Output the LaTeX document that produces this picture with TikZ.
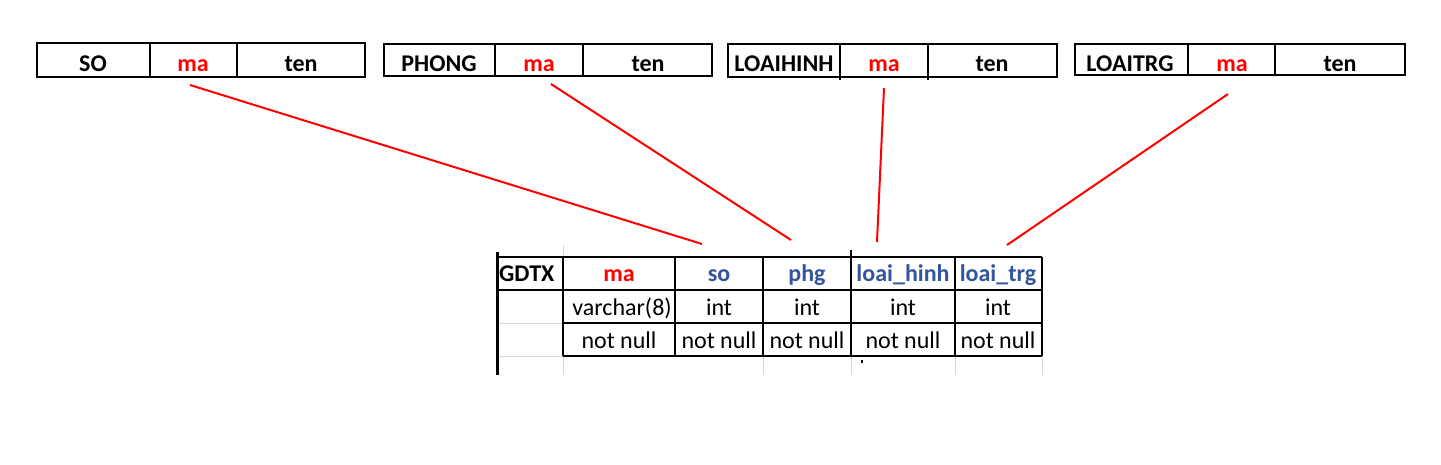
\documentclass[tikz,border=0pt]{standalone}
\usepackage{fontspec}
\setmainfont{Carlito}
\definecolor{keyred}{RGB}{255,0,0}
\definecolor{fkblue}{RGB}{52,84,156}
\definecolor{gridgray}{RGB}{215,215,215}

\begin{document}
\begin{tikzpicture}[x=1pt,y=-1pt]
\tikzset{cell/.style = {anchor=base, inner sep=0pt, font=\fontsize{24}{28}\selectfont}}
\tikzset{head/.style = {cell, font=\fontsize{24}{28}\selectfont\bfseries}}
\tikzset{grid/.style = {draw=black, line width=1.2pt}}
\tikzset{faint/.style = {draw=gridgray, line width=1pt}}
\tikzset{link/.style = {draw=keyred, line width=2pt}}
\useasboundingbox (0,0) rectangle (1441,464);

% tables on top
\draw[grid] (37,43) rectangle (365,77);
\draw[grid] (150,43) -- (150,77);
\draw[grid] (237,43) -- (237,77);
\node[head] (so) at (93,71) {SO};
\node[head, text=keyred] (soma) at (193,71) {ma};
\node[head] (soten) at (301,71) {ten};

\draw[grid] (384,44) rectangle (712,76);
\draw[grid] (495,44) -- (495,76);
\draw[grid] (583,44) -- (583,76);
\node[head] (phong) at (439,71) {PHONG};
\node[head, text=keyred] (phongma) at (539,71) {ma};
\node[head] (phongten) at (648,71) {ten};

\draw[grid] (728,44) rectangle (1057,77);
\draw[grid] (840,44) -- (840,80);
\draw[grid] (928,44) -- (928,80);
\node[head] (lhinh) at (784,71) {LOAIHINH};
\node[head, text=keyred] (lhinhma) at (884,71) {ma};
\node[head] (lhinhten) at (992,71) {ten};

\draw[grid] (1075,44) rectangle (1405,75);
\draw[grid] (1188,44) -- (1188,75);
\draw[grid] (1275,44) -- (1275,75);
\node[head] (ltrg) at (1130,71) {LOAITRG};
\node[head, text=keyred] (ltrgma) at (1232,71) {ma};
\node[head] (ltrgten) at (1340,71) {ten};

% table GDTX
\draw[faint] (497,323) -- (563,323);
\draw[faint] (497,356) -- (563,356);
\draw[faint] (563,245) -- (563,257);
\draw[faint] (563,356) -- (563,375);
\draw[faint] (763,356) -- (763,375);
\draw[faint] (851,356) -- (851,375);
\draw[faint] (955,356) -- (955,375);
\draw[faint] (1042,356) -- (1042,375);
\draw[grid] (497,257) -- (1042,257);
\draw[grid] (497,290) -- (1042,290);
\draw[grid] (563,323) -- (1042,323);
\draw[grid] (563,356) -- (1042,356);
\draw[grid] (563,257) -- (563,356);
\draw[grid] (675,257) -- (675,356);
\draw[grid] (763,257) -- (763,356);
\draw[grid] (851,250) -- (851,356);
\draw[grid] (955,257) -- (955,356);
\draw[grid] (1042,257) -- (1042,356);
\draw[black, line width=3pt] (497,252) -- (497,375);
\fill[black] (861,360) rectangle (863,363);

\node[head, anchor=base west] (gdtx) at (499,281) {GDTX};
\node[head, text=keyred] (gma) at (619,281) {ma};
\node[head, text=fkblue] (gso) at (719,281) {so};
\node[head, text=fkblue] (gphg) at (807,281) {phg};
\node[head, text=fkblue] (ghinh) at (903,281) {loai\_hinh};
\node[head, text=fkblue] (gtrg) at (998,281) {loai\_trg};

\node[cell] (tma) at (622,315) {varchar(8)};
\node[cell] (tso) at (719,315) {int};
\node[cell] (tphg) at (807,315) {int};
\node[cell] (thinh) at (903,315) {int};
\node[cell] (ttrg) at (998,315) {int};

\node[cell] (nma) at (619,348) {not null};
\node[cell] (nso) at (719,348) {not null};
\node[cell] (nphg) at (807,348) {not null};
\node[cell] (nhinh) at (903,348) {not null};
\node[cell] (ntrg) at (998,348) {not null};

% links
\coordinate (a1) at (190,85);
\coordinate (b1) at (702,244);
\coordinate (a2) at (551,84);
\coordinate (b2) at (791,240);
\coordinate (a3) at (884,88);
\coordinate (b3) at (877,242);
\coordinate (a4) at (1228,94);
\coordinate (b4) at (1007,245);
\draw[link] (a1) -- (b1);
\draw[link] (a2) -- (b2);
\draw[link] (a3) -- (b3);
\draw[link] (a4) -- (b4);
\end{tikzpicture}
\end{document}
